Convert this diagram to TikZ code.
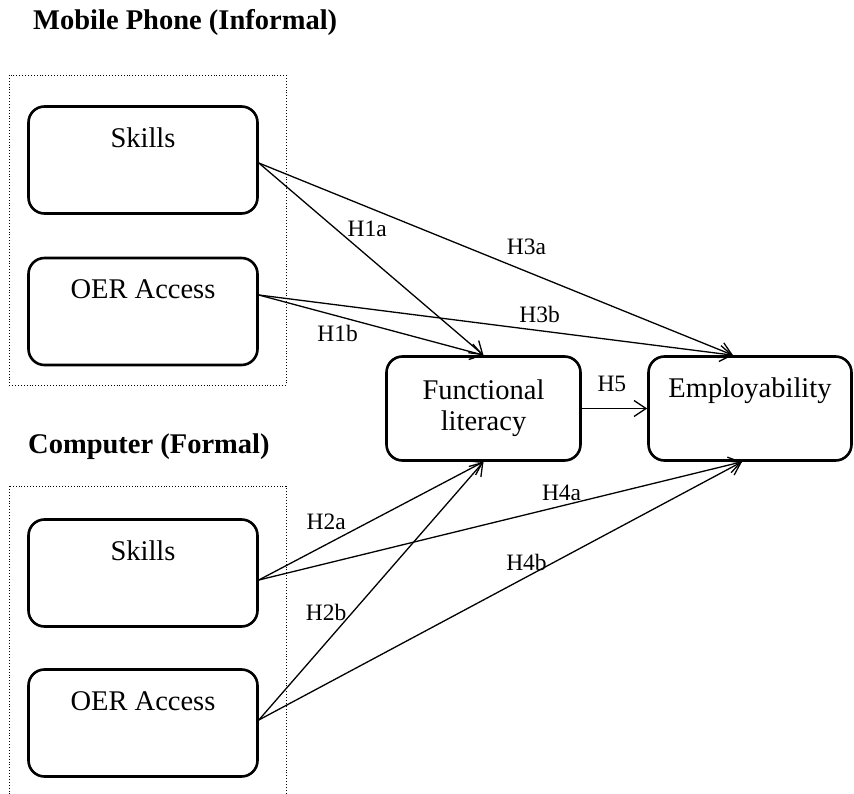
\documentclass[tikz,border=0pt]{standalone}
\usepackage{fontspec}
\setmainfont{Liberation Serif}
\usetikzlibrary{arrows.meta}
\begin{document}
\begin{tikzpicture}[x=1pt,y=-1pt,
  box/.style={draw, line width=2.6pt, rounded corners=16pt, inner sep=0pt,
    minimum width=229pt, minimum height=107pt},
  boxtext/.style={font=\fontsize{28.5}{32}\selectfont, anchor=base, yshift=-42pt, inner sep=0pt},
  grp/.style={draw, line width=0.9pt, dotted},
  ttl/.style={font=\fontsize{28.5}{32}\selectfont\bfseries, anchor=base west, inner sep=0pt},
  conn/.style={line width=1.3pt, -{Straight Barb[length=12pt,width=16pt,line width=1.3pt]}},
  lab/.style={font=\fontsize{23.5}{26}\selectfont, inner sep=0pt}
]
\useasboundingbox (0,0) rectangle (854,794);

% titles
\node[ttl] (t1) at (33,30) {Mobile Phone (Informal)};
\node[ttl] (t2) at (28,453) {Computer (Formal)};

% groups
\draw[grp] (9,75) rectangle (286,385);
\draw[grp] (9,486) rectangle (286,800);

% boxes
\node[box, label={[boxtext]north:Skills}] (sk1) at (143,160) {};
\node[box, label={[boxtext]north:OER Access}] (oer1) at (143,311.5) {};
\node[box, label={[boxtext]north:Skills}] (sk2) at (143,573) {};
\node[box, label={[boxtext]north:OER Access}] (oer2) at (143,723) {};
\node[box, minimum width=194pt, minimum height=104pt, align=center,
      font=\fontsize{28.5}{31}\selectfont] (fl) at (483.5,408.5) {Functional\\literacy};
\node[box, minimum width=203pt, minimum height=104pt,
      label={[boxtext]north:Employability}] (emp) at (750,408.5) {};

% connectors
\draw[conn] ([yshift=-3pt]sk1.east) -- node[lab, pos=0.482, yshift=27pt]{H1a} (fl.north);
\draw[conn] ([yshift=-3pt]sk1.east) -- node[lab, pos=0.5645, yshift=25pt]{H3a} ([xshift=-17pt]emp.north);
\draw[conn] ([yshift=16.5pt]oer1.east) -- node[lab, pos=0.351, yshift=-17pt]{H1b} (fl.north);
\draw[conn] ([yshift=16.5pt]oer1.east) -- node[lab, pos=0.592, yshift=16pt]{H3b} ([xshift=-17pt]emp.north);
\draw[conn] (fl.east) -- node[lab, pos=0.46, yshift=25pt]{H5} (emp.west);
\draw[conn] ([yshift=-7pt]sk2.east) -- node[lab, pos=0.3, yshift=23pt]{H2a} (fl.south);
\draw[conn] ([yshift=-7pt]sk2.east) -- node[lab, pos=0.6266, yshift=13pt]{H4a} ([xshift=-8pt]emp.south);
\draw[conn] ([yshift=3pt]oer2.east) -- node[lab, pos=0.3, yshift=30pt]{H2b} (fl.south);
\draw[conn] ([yshift=3pt]oer2.east) -- node[lab, pos=0.554, yshift=14pt]{H4b} ([xshift=-8pt]emp.south);
\end{tikzpicture}
\end{document}
